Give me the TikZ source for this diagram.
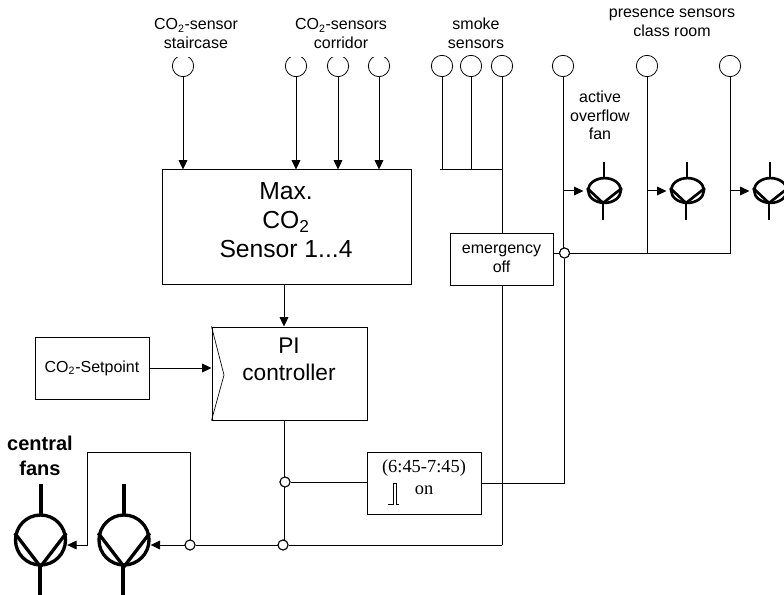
\documentclass[tikz,border=0pt]{standalone}
\usepackage{fontspec}
\setmainfont{Liberation Sans}
\newfontfamily\serifx{Liberation Serif}
\usetikzlibrary{arrows.meta,shapes.geometric}
\newcommand{\cotwo}{CO\textsubscript{2}}
\tikzset{
  x=0.75pt,y=-0.75pt,
  wire/.style={line width=0.75pt,draw=black},
  arr/.style={wire,-{Triangle[length=7pt,width=6.5pt]}},
  sensor/.style={circle,draw=black,line width=0.6pt,fill=white,minimum size=16pt,inner sep=0pt},
  junction/.style={circle,draw=black,line width=0.75pt,fill=white,minimum size=7.5pt,inner sep=0pt},
  block/.style={rectangle,draw=black,line width=0.75pt,inner sep=0pt,align=center},
  label/.style={align=center,inner sep=0pt,font=\fontsize{12}{14}\selectfont},
  bigtext/.style={align=center,inner sep=0pt,font=\fontsize{18.5}{21.5}\selectfont},
  timetext/.style={inner sep=0pt,font=\serifx\fontsize{13.8}{16}\selectfont},
  bigfan/.style={circle,draw=black,line width=2.5pt,minimum size=37.5pt,inner sep=0pt},
  smallfan/.style={ellipse,draw=black,line width=2pt,minimum width=24.6pt,minimum height=18.6pt,inner sep=0pt},
  bigfanline/.style={draw=black,line width=3pt},
  smallfanline/.style={draw=black,line width=2.2pt},
}
\begin{document}
\begin{tikzpicture}
\useasboundingbox (0,0) rectangle (784,595);
% sensors
\node[sensor] (s1) at (183,66) {};
\node[sensor] (s2) at (296,66) {};
\node[sensor] (s3) at (338,66) {};
\node[sensor] (s4) at (379,66) {};
\node[sensor] (m1) at (442,66) {};
\node[sensor] (m2) at (471,66) {};
\node[sensor] (m3) at (502,66) {};
\node[sensor] (p1) at (563,66) {};
\node[sensor] (p2) at (647,66) {};
\node[sensor] (p3) at (730,66) {};
\fill[white] (170,50) rectangle (395,56.7);
% labels
\node[label] (l1) at (196,33.5) {\cotwo-sensor\\staircase};
\node[label] (l2) at (341,33.5) {\cotwo-sensors\\corridor};
\node[label] (l3) at (476,33.5) {smoke\\sensors};
\node[label] (l4) at (672,23) {presence sensors\\class room};
\node[label] (l5) at (600,115.5) {active\\overflow\\fan};
% blocks
\node[block,minimum width=249*0.75pt,minimum height=114*0.75pt] (max) at (286.5,227) {};
\node[bigtext] (maxt) at (286,220) {Max.\\\cotwo\\Sensor 1...4};
\node[block,minimum width=155*0.75pt,minimum height=93*0.75pt] (pi) at (289.5,373.5) {};
\node[bigtext,font=\fontsize{17}{20}\selectfont] (pit) at (289,359) {PI\\controller};
\node[block,minimum width=114*0.75pt,minimum height=62*0.75pt,
  font=\fontsize{12}{14}\selectfont] (set) at (92,368) {\cotwo-Setpoint};
\node[block,minimum width=103*0.75pt,minimum height=52*0.75pt,
  font=\fontsize{12}{14.2}\selectfont] (em) at (501.5,259) {emergency\\off};
\node[block,minimum width=114*0.75pt,minimum height=62*0.75pt] (tm) at (424,483) {};
\node[timetext] (tt) at (424,468) {(6:45-7:45)};
\node[timetext] (to) at (424,490) {on};
\draw[line width=0.5pt] (388,504) -- (393,504) -- (393,483) -- (396,483) -- (396,504) -- (399,504);
\draw[line width=0.5pt] (pi.north west) -- (224,375) -- (pi.south west);
% coordinates
\coordinate (b0) at (502,545);
\coordinate (tr) at (564.5,483);
\coordinate (top) at (87.5,452);
\coordinate (topr) at (190.5,452);
\coordinate (low) at (87.5,545);
\coordinate (sb) at (440,170);
\coordinate (sbr) at (502,170);
\coordinate (m1b) at (442,170);
\coordinate (m2b) at (471,170);
\coordinate (pw) at (284,400);
% junctions
\node[junction] (j1) at (285,482) {};
\node[junction] (j2) at (283,545) {};
\node[junction] (j3) at (190,545) {};
\node[junction] (j4) at (564.5,253) {};
% fans
\node[bigfan] (f1) at (40.5,540) {};
\node[bigfan] (f2) at (124,540) {};
\foreach \f/\tx/\bx in {f1/41/40,f2/124/123}{
  \draw[bigfanline] (\tx,484) -- (\tx,514);
  \draw[bigfanline] (\bx,566) -- (\bx,595);
  \draw[draw=black,line width=2.5pt,line join=round] (\f.165) -- (\f.south) -- (\f.15);
}
\node[smallfan] (g1) at (604.5,190.5) {};
\node[smallfan] (g2) at (687.5,190.5) {};
\node[smallfan] (g3) at (770.5,190.5) {};
\foreach \f/\tx in {g1/604,g2/687,g3/770}{
  \draw[smallfanline] (\tx,162) -- (\tx,178);
  \draw[smallfanline] (\tx-1,204) -- (\tx-1,220);
  \draw[draw=black,line width=2pt,line join=round] (\f.172) -- (\tx-1,203) -- (\f.8);
}
\node[align=center,inner sep=0pt,font=\bfseries\fontsize{15}{18.75}\selectfont] (cf) at (40,455.5) {central\\fans};
% connectors: sensors to max
\draw[arr] (s1) -- (s1 |- max.north);
\draw[arr] (s2) -- (s2 |- max.north);
\draw[arr] (s3) -- (s3 |- max.north);
\draw[arr] (s4) -- (s4 |- max.north);
\draw[arr] (max.south -| pw) -- (pi.north -| pw);
\draw[arr] (set) -- (pi.west |- set);
% smoke
\draw[wire] (m1) -- (m1b);
\draw[wire] (m2) -- (m2b);
\draw[wire] (sb) -- (sbr);
\draw[wire] (m3) -- (m3 |- em.north);
\draw[wire] (m3 |- em.south) -- (b0);
% PI to bus
\draw[wire] (pi.south -| pw) -- (pw |- j2);
\draw[wire] (j1) -- (tm.west |- j1);
\draw[wire] (tm.east) -- (tr);
\draw[wire] (b0) -- (j2);
\draw[wire] (j2) -- (j3);
\draw[arr] (j3) -- (j3 -| f2.east);
\draw[wire] (j3 |- topr) -- (j3);
\draw[wire] (topr) -- (top) -- (low);
\draw[arr] (low) -- (low -| f1.east);
% presence
\coordinate (a1) at (563.5,191);
\coordinate (a2) at (647,191);
\coordinate (a3) at (730,191);
\draw[wire] (p1) -- (p1 |- a1) -- (p1 |- j4);
\draw[wire] (j4) -- (tr);
\draw[wire] (em.east |- j4) -- (j4);
\draw[wire] (j4) -- (p3 |- j4) -- (p3);
\draw[wire] (p2) -- (p2 |- j4);
\draw[arr,shorten >=2.5pt] (a1) -- (a1 -| g1.west);
\draw[arr,shorten >=2.5pt] (a2) -- (a2 -| g2.west);
\draw[arr,shorten >=2.5pt] (a3) -- (a3 -| g3.west);
\node[junction] at (j4) {};
\node[junction] at (j1) {};
\node[junction] at (j2) {};
\node[junction] at (j3) {};
\end{tikzpicture}
\end{document}
